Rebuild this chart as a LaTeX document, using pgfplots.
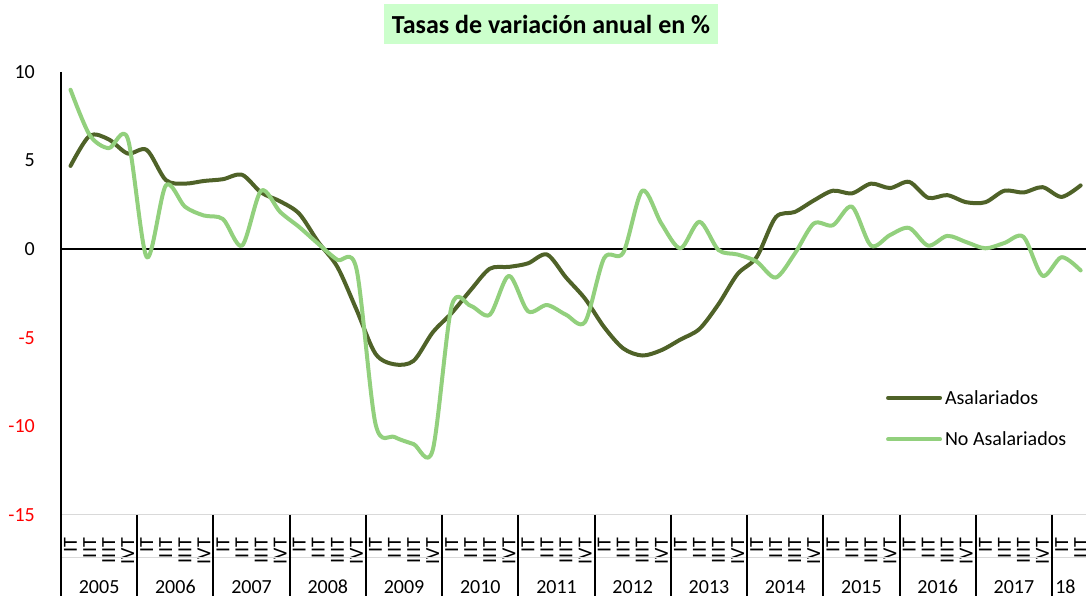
\documentclass[border=0pt]{standalone}
\usepackage{pgfplots}
\pgfplotsset{compat=1.18}
\usepackage{fontspec}
\setmainfont{Carlito}
\definecolor{darkg}{RGB}{79,98,40}
\definecolor{lightg}{RGB}{146,208,125}
\definecolor{titlebg}{RGB}{204,255,204}
\newcommand{\fs}{\fontsize{20bp}{24bp}\selectfont}
\pgfplotstableread{
i A N
0 4.7 9.0
1 6.4 6.45
2 6.2 5.7
3 5.4 6.25
4 5.6 -0.45
5 3.9 3.6
6 3.7 2.4
7 3.85 1.9
8 3.95 1.7
9 4.2 0.2
10 3.2 3.3
11 2.7 2.1
12 2.0 1.25
13 0.4 0.3
14 -1.0 -0.6
15 -3.4 -1.1
16 -5.9 -9.85
17 -6.5 -10.6
18 -6.3 -11.0
19 -4.7 -11.35
20 -3.6 -3.2
21 -2.3 -3.2
22 -1.1 -3.7
23 -1.0 -1.5
24 -0.8 -3.5
25 -0.3 -3.15
26 -1.6 -3.7
27 -2.8 -4.1
28 -4.4 -0.5
29 -5.6 -0.2
30 -6.0 3.3
31 -5.7 1.45
32 -5.1 0.05
33 -4.5 1.55
34 -3.1 -0.05
35 -1.4 -0.3
36 -0.45 -0.7
37 1.8 -1.6
38 2.1 -0.25
39 2.75 1.45
40 3.3 1.35
41 3.15 2.4
42 3.7 0.2
43 3.45 0.8
44 3.8 1.2
45 2.9 0.2
46 3.05 0.75
47 2.65 0.4
48 2.65 0.05
49 3.3 0.35
50 3.2 0.7
51 3.5 -1.5
52 2.95 -0.45
53 3.6 -1.2
}\data
\begin{document}
\begin{tikzpicture}[x=1bp,y=1bp]
\useasboundingbox (0,0) rectangle (1086,596);
\node[fill=titlebg, inner xsep=7.5bp, inner ysep=0pt, minimum height=40bp, font=\fontsize{26bp}{30bp}\selectfont\bfseries] at (551,572) {Tasas de variación anual en \%};
\begin{axis}[
  at={(61bp,81bp)}, anchor=south west,
  scale only axis, width=1025bp, height=443bp,
  xmin=-0.5, xmax=53.28, ymin=-15, ymax=10,
  axis x line*=bottom, axis y line*=left,
  x axis line style={draw=none}, y axis line style={draw=none},
  major tick length=0pt, tick style={draw=none},
  ytick={-15,-10,-5,0,5,10},
  yticklabels={\textcolor{red}{-15},\textcolor{red}{-10},\textcolor{red}{-5},0,5,10},
  yticklabel style={font=\fs, anchor=east, inner sep=0pt},
  yticklabel shift=26bp,
  xtick={0,...,53},
  xticklabels={IT,IIT,IIIT,IVT,IT,IIT,IIIT,IVT,IT,IIT,IIIT,IVT,IT,IIT,IIIT,IVT,IT,IIT,IIIT,IVT,IT,IIT,IIIT,IVT,IT,IIT,IIIT,IVT,IT,IIT,IIIT,IVT,IT,IIT,IIIT,IVT,IT,IIT,IIIT,IVT,IT,IIT,IIIT,IVT,IT,IIT,IIIT,IVT,IT,IIT,IIIT,IVT,IT,IIT},
  xticklabel style={font=\fs, rotate=90, anchor=east, inner sep=0pt},
  xticklabel shift=23bp,
  clip=false,
  legend style={at={(axis cs:42.78,-9.56)}, anchor=west, draw=none, fill=none, font=\fs,
    inner sep=0pt, row sep=26bp, nodes={inner sep=0pt},
    /tikz/every odd column/.append style={column sep=3bp}},
  legend cell align=left,
  legend image code/.code={\draw[#1, line width=4bp] (0bp,0bp) -- (52bp,0bp);},
]
\draw[gray!30, line width=1bp] (axis cs:-0.5,-15) -- (axis cs:53.28,-15);
\draw[gray!30, line width=1bp] ([yshift=-43bp]axis cs:-0.5,-15) -- ([yshift=-43bp]axis cs:53.28,-15);
\draw[black, line width=2bp] (axis cs:-0.5,0) -- (axis cs:53.28,0);
\draw[black, line width=2bp] (axis cs:-0.5,10) -- ([yshift=-81bp]axis cs:-0.5,-15);
\draw[black, line width=2bp] (axis cs:3.5,-15) -- ([yshift=-81bp]axis cs:3.5,-15);
\draw[black, line width=2bp] (axis cs:7.5,-15) -- ([yshift=-81bp]axis cs:7.5,-15);
\draw[black, line width=2bp] (axis cs:11.5,-15) -- ([yshift=-81bp]axis cs:11.5,-15);
\draw[black, line width=2bp] (axis cs:15.5,-15) -- ([yshift=-81bp]axis cs:15.5,-15);
\draw[black, line width=2bp] (axis cs:19.5,-15) -- ([yshift=-81bp]axis cs:19.5,-15);
\draw[black, line width=2bp] (axis cs:23.5,-15) -- ([yshift=-81bp]axis cs:23.5,-15);
\draw[black, line width=2bp] (axis cs:27.5,-15) -- ([yshift=-81bp]axis cs:27.5,-15);
\draw[black, line width=2bp] (axis cs:31.5,-15) -- ([yshift=-81bp]axis cs:31.5,-15);
\draw[black, line width=2bp] (axis cs:35.5,-15) -- ([yshift=-81bp]axis cs:35.5,-15);
\draw[black, line width=2bp] (axis cs:39.5,-15) -- ([yshift=-81bp]axis cs:39.5,-15);
\draw[black, line width=2bp] (axis cs:43.5,-15) -- ([yshift=-81bp]axis cs:43.5,-15);
\draw[black, line width=2bp] (axis cs:47.5,-15) -- ([yshift=-81bp]axis cs:47.5,-15);
\draw[black, line width=2bp] (axis cs:51.5,-15) -- ([yshift=-81bp]axis cs:51.5,-15);
\node[font=\fs] at ([yshift=-72bp]axis cs:1.5,-15) {2005};
\node[font=\fs] at ([yshift=-72bp]axis cs:5.5,-15) {2006};
\node[font=\fs] at ([yshift=-72bp]axis cs:9.5,-15) {2007};
\node[font=\fs] at ([yshift=-72bp]axis cs:13.5,-15) {2008};
\node[font=\fs] at ([yshift=-72bp]axis cs:17.5,-15) {2009};
\node[font=\fs] at ([yshift=-72bp]axis cs:21.5,-15) {2010};
\node[font=\fs] at ([yshift=-72bp]axis cs:25.5,-15) {2011};
\node[font=\fs] at ([yshift=-72bp]axis cs:29.5,-15) {2012};
\node[font=\fs] at ([yshift=-72bp]axis cs:33.5,-15) {2013};
\node[font=\fs] at ([yshift=-72bp]axis cs:37.5,-15) {2014};
\node[font=\fs] at ([yshift=-72bp]axis cs:41.5,-15) {2015};
\node[font=\fs] at ([yshift=-72bp]axis cs:45.5,-15) {2016};
\node[font=\fs] at ([yshift=-72bp]axis cs:49.5,-15) {2017};
\node[font=\fs] at ([yshift=-72bp]axis cs:52.2,-15) {18};
\addplot[darkg, line width=4bp, smooth, line cap=round, line join=round] table[x=i, y=A] {\data};
\addlegendentry{Asalariados}
\addplot[lightg, line width=4bp, smooth, line cap=round, line join=round] table[x=i, y=N] {\data};
\addlegendentry{No Asalariados}
\end{axis}
\end{tikzpicture}
\end{document}
